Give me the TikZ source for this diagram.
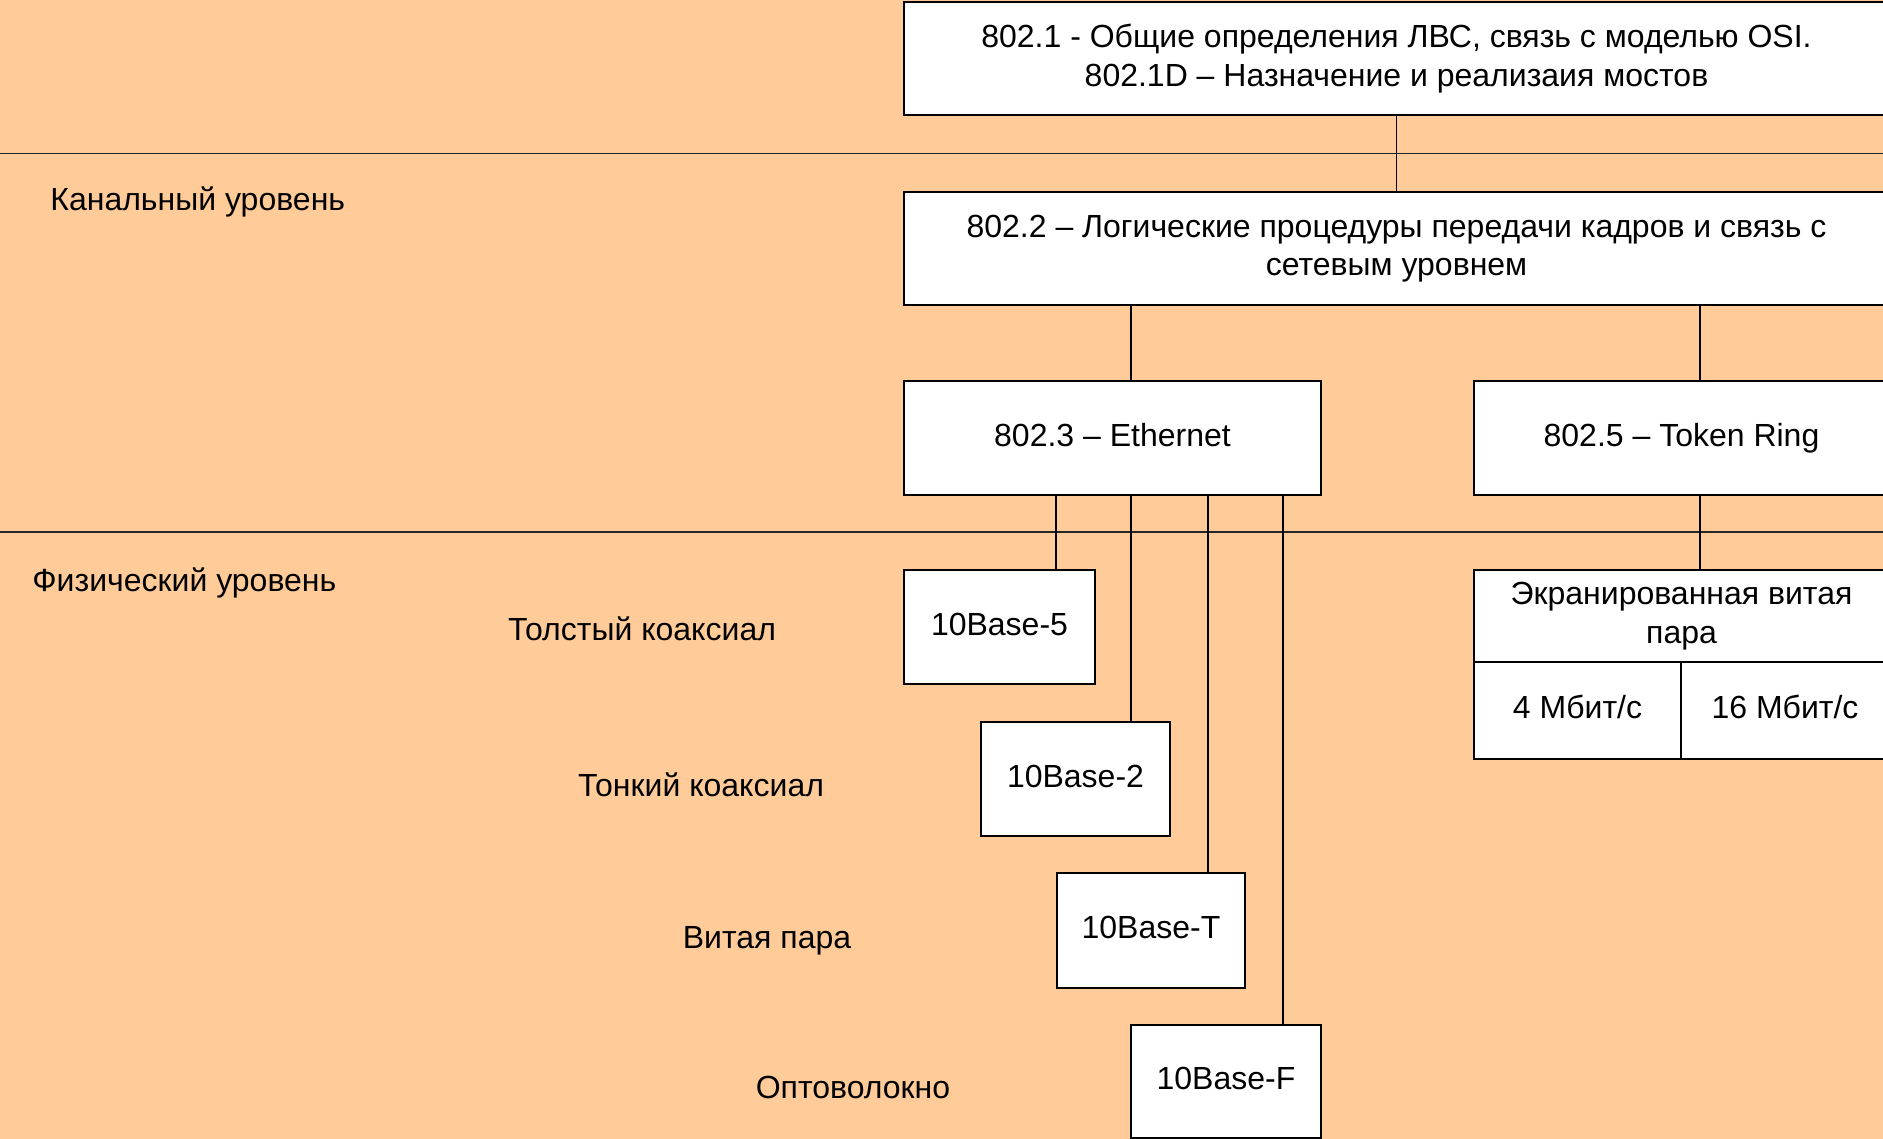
\documentclass[tikz,border=0pt]{standalone}
\usepackage{fontspec}
\setmainfont{Liberation Sans}
\definecolor{peach}{RGB}{255,204,153}
\begin{document}
\begin{tikzpicture}[x=0.5pt,y=-0.5pt,
  every node/.style={font=\fontsize{16}{19.2}\selectfont, inner sep=0pt},
  box/.style={draw=black, fill=white, line width=0.8pt, align=center},
  onebox/.style={box, text height=11.6pt, text depth=3.5pt},
  wire/.style={draw=black, line width=0.75pt},
  sep/.style={draw=black!85, line width=0.8pt},
  layer/.style={anchor=west},
  medium/.style={anchor=center}]
\useasboundingbox (0,0) rectangle (1883,1139);
\clip (0,0) rectangle (1883,1139);
\fill[peach] (0,0) rectangle (1883,1139);

% layer separators
\coordinate (sepA0) at (0,153.5);
\coordinate (sepA1) at (1883,153.5);
\coordinate (sepB0) at (0,532);
\coordinate (sepB1) at (1883,532);
\draw[sep] (sepA0) -- (sepA1);
\draw[sep] (sepB0) -- (sepB1);

% layer names
\node[layer] (kan) at (50,201.5) {Канальный уровень};
\node[layer] (fiz) at (32,582.5) {Физический уровень};

% media names
\node[medium] (m5) at (642,629) {Толстый коаксиал};
\node[medium] (m2) at (701,785) {Тонкий коаксиал};
\node[medium] (mT) at (767,940.5) {Витая пара};
\node[medium] (mF) at (853,1087) {Оптоволокно};

% standards
\node[box, minimum width=492.5pt, minimum height=56.5pt] (s1) at (1396.5,58.5)
  {802.1 - Общие определения ЛВС, связь с моделью OSI.\\802.1D – Назначение и реализаия мостов};
\node[box, minimum width=492.5pt, minimum height=56.5pt] (s2) at (1396.5,248.5)
  {802.2 – Логические процедуры передачи кадров и связь с\\сетевым уровнем};
\node[onebox, minimum width=208.5pt, minimum height=57pt] (eth) at (1112.5,438) {802.3 – Ethernet};
\node[onebox, minimum width=207.5pt, minimum height=57pt] (tr) at (1681.5,438) {802.5 – Token Ring};

\node[onebox, minimum width=95.5pt, minimum height=57pt] (b5) at (999.5,627) {10Base-5};
\node[onebox, minimum width=94.5pt, minimum height=57pt] (b2) at (1075.5,779) {10Base-2};
\node[onebox, minimum width=94pt, minimum height=57.5pt] (bT) at (1151,930.5) {10Base-T};
\node[onebox, minimum width=95pt, minimum height=56.5pt] (bF) at (1226,1081.5) {10Base-F};

\node[box, minimum width=207.5pt, minimum height=46pt] (stp) at (1681.5,616) {Экранированная витая\\пара};
\node[onebox, minimum width=103.5pt, minimum height=48.5pt] (r4) at (1577.5,710.5) {4 Мбит/с};
\node[onebox, minimum width=104pt, minimum height=48.5pt] (r16) at (1785,710.5) {16 Мбит/с};

% connector columns
\coordinate (xA) at (1131,0);
\coordinate (xB) at (1700,0);
\coordinate (x5) at (1056,0);
\coordinate (x2) at (1131,0);
\coordinate (xT) at (1208,0);
\coordinate (xF) at (1283,0);

\draw[wire] (s1) -- (s2);
\draw[wire] (s2.south -| xA) -- (eth.north -| xA);
\draw[wire] (s2.south -| xB) -- (tr.north -| xB);
\draw[wire] (eth.south -| x5) -- (b5.north -| x5);
\draw[wire] (eth.south -| x2) -- (b2.north -| x2);
\draw[wire] (eth.south -| xT) -- (bT.north -| xT);
\draw[wire] (eth.south -| xF) -- (bF.north -| xF);
\draw[wire] (tr.south -| xB) -- (stp.north -| xB);
\end{tikzpicture}
\end{document}
